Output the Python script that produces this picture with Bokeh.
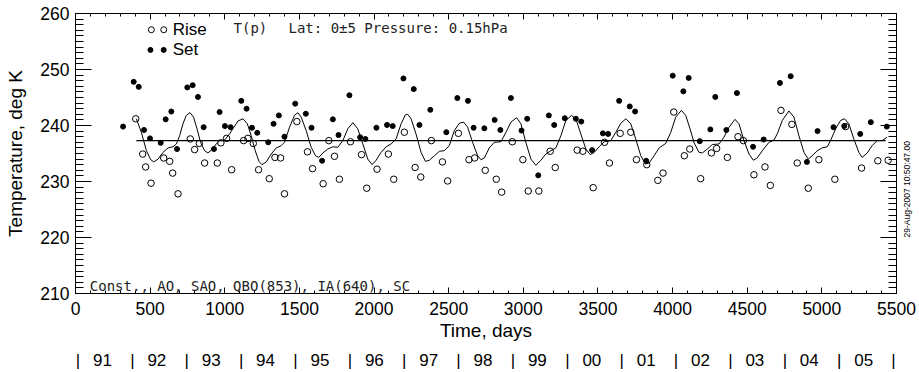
import math
from bokeh.plotting import figure
from bokeh.models import (Range1d, LinearAxis, SingleIntervalTicker, FixedTicker,
                          Label, AllLabels)
from bokeh.embed import file_html
from bokeh.resources import INLINE

# ---------------- data ----------------
rise_day = [403.5, 450, 470, 506, 591, 631, 651, 686.7, 769, 798, 829.5, 865, 950, 974,
            1012, 1046, 1126, 1155, 1191, 1226.5, 1298, 1336, 1374, 1400, 1483, 1554,
            1588, 1659, 1697, 1735, 1768, 1842, 1916, 1951, 2020, 2096, 2132, 2203,
            2275, 2313, 2384, 2458, 2493, 2565, 2636, 2674, 2745, 2819, 2855, 2926,
            2997, 3033, 3104, 3180, 3214, 3361, 3399, 3468, 3544, 3577, 3649, 3720,
            3758, 3827, 3901, 3936, 4008, 4079, 4115, 4188, 4260, 4295, 4367, 4438,
            4474, 4545, 4619, 4655, 4726, 4799, 4835, 4909, 4980, 5087, 5159, 5266,
            5375, 5444]
rise_temp = [241.2, 234.9, 232.6, 229.7, 234.2, 233.6, 231.5, 227.8, 237.6, 235.7, 236.8,
             233.3, 233.3, 236.9, 237.7, 232.1, 237.3, 237.7, 236.8, 232.1, 230.5, 234.3,
             234.2, 227.8, 240.7, 235.3, 232.3, 229.6, 237.3, 234.5, 230.4, 237.1, 234.8,
             228.8, 232.2, 234.9, 230.4, 238.8, 232.5, 230.8, 237.3, 233.5, 230.1, 238.6,
             233.9, 234.2, 232.0, 230.4, 228.1, 237.1, 233.9, 228.3, 228.3, 235.4, 232.5,
             235.6, 235.4, 228.9, 237.0, 233.3, 238.6, 238.8, 233.9, 233.0, 230.2, 231.5,
             242.4, 234.6, 235.8, 230.5, 235.1, 235.9, 234.3, 238.0, 237.3, 231.2, 232.6,
             229.3, 242.7, 240.2, 233.3, 228.8, 233.9, 230.4, 239.8, 232.4, 233.7, 233.8]

set_day = [318.7, 390, 423.6, 459, 499, 570.7, 604, 642, 680, 749, 785, 820.5, 858.4,
           927.6, 965.5, 1001, 1039, 1110.5, 1146, 1182, 1217.5, 1291, 1327, 1362.5, 1400,
           1472, 1543, 1581, 1652, 1724, 1762, 1835, 1907, 1942, 2016, 2087, 2125, 2197,
           2266, 2304, 2377, 2484, 2558, 2629, 2667, 2739, 2808, 2846, 2917, 2988, 3026,
           3100, 3171, 3207, 3278, 3352, 3388, 3461, 3533, 3568, 3642, 3713, 3749, 3823,
           4001, 4072, 4108, 4182, 4253, 4286, 4360, 4431, 4539, 4610, 4719, 4791, 4900,
           4971, 5078, 5150, 5257, 5328, 5435]
set_temp = [239.8, 247.8, 246.9, 239.2, 237.7, 236.9, 241.1, 242.5, 235.8, 246.8, 247.2,
            245.1, 239.7, 235.8, 242.4, 239.9, 239.7, 244.4, 243.0, 239.6, 238.7, 237.0,
            240.3, 241.8, 238.0, 243.9, 242.1, 239.6, 233.7, 241.1, 238.3, 245.4, 237.9,
            237.6, 239.6, 240.1, 239.9, 248.4, 246.5, 240.1, 242.8, 238.8, 244.9, 244.4,
            239.6, 239.5, 241.0, 239.2, 244.9, 239.1, 241.2, 231.1, 241.8, 240.1, 241.3,
            241.2, 240.7, 235.6, 238.6, 238.5, 244.4, 243.4, 242.5, 233.7, 248.9, 246.1,
            248.5, 237.2, 239.3, 245.1, 239.2, 245.8, 236.2, 237.5, 247.6, 248.8, 233.5,
            239.0, 239.7, 239.9, 238.5, 240.6, 239.8]

fit_day = [408, 441, 475, 504, 524, 553, 586, 620, 653, 676, 698, 720, 742, 767, 791, 814,
           838, 865, 887, 914, 943, 965, 999, 1032, 1061, 1088, 1122, 1151, 1177, 1204,
           1229, 1249, 1278, 1311, 1345, 1378, 1400, 1434, 1467, 1490, 1512, 1545, 1579,
           1608, 1630, 1657, 1690, 1724, 1757, 1791, 1824, 1858, 1891, 1925, 1958, 1987,
           2014, 2047, 2081, 2114, 2148, 2181, 2210, 2226, 2248, 2281, 2315, 2344, 2371,
           2404, 2438, 2471, 2504, 2538, 2571, 2600, 2627, 2660, 2694, 2716, 2739, 2772,
           2806, 2850, 2884, 2917, 2955, 2984, 3017, 3051, 3084, 3118, 3151, 3185, 3218,
           3252, 3285, 3323, 3352, 3385, 3419, 3448, 3475, 3508, 3542, 3586, 3620, 3653,
           3687, 3720, 3753, 3787, 3818, 3843, 3876, 3910, 3954, 3988, 4021, 4059, 4088,
           4117, 4144, 4177, 4199, 4233, 4266, 4311, 4344, 4378, 4418, 4445, 4478, 4512,
           4541, 4567, 4601, 4646, 4679, 4701, 4735, 4779, 4813, 4846, 4880, 4909, 4935,
           4969, 5002, 5036, 5058, 5092, 5125, 5152, 5181, 5214, 5248, 5270, 5304, 5337,
           5370, 5404, 5437]
fit_temp = [241.2, 238.8, 235.5, 233.9, 233.5, 234.0, 235.2, 236.0, 236.2, 236.7, 238.2,
            240.3, 241.8, 242.3, 241.5, 239.4, 237.0, 235.5, 235.1, 235.7, 236.7, 237.3,
            237.4, 238.5, 239.7, 240.8, 241.2, 240.3, 238.2, 235.5, 233.6, 233.0, 233.5,
            234.9, 236.0, 236.4, 237.0, 239.7, 241.8, 242.3, 241.5, 239.1, 236.1, 234.6,
            234.3, 235.1, 235.8, 236.2, 236.1, 237.3, 239.4, 240.5, 239.4, 236.7, 234.0,
            233.0, 233.8, 235.2, 236.2, 236.7, 237.6, 240.3, 241.9, 242.0, 241.2, 238.5,
            235.2, 233.6, 233.8, 234.6, 235.4, 235.5, 236.4, 239.1, 240.4, 240.6, 239.7,
            237.0, 234.6, 233.9, 234.2, 236.0, 237.0, 237.1, 238.8, 240.6, 241.4, 240.3,
            237.0, 234.0, 232.9, 233.8, 234.9, 235.5, 236.0, 238.2, 240.9, 241.8, 241.2,
            238.5, 235.8, 234.8, 235.2, 236.2, 237.1, 237.3, 238.8, 240.4, 241.2, 240.3,
            237.6, 234.6, 233.1, 233.3, 234.6, 236.0, 236.8, 238.8, 241.5, 242.7, 241.8,
            239.4, 236.9, 235.2, 235.1, 235.8, 236.6, 236.7, 237.9, 239.7, 241.1, 240.3,
            237.3, 234.9, 233.8, 234.2, 235.5, 237.0, 237.4, 238.5, 240.9, 242.6, 241.5,
            238.2, 235.2, 234.0, 234.6, 235.5, 236.0, 236.2, 237.3, 239.4, 240.9, 241.2,
            240.3, 237.6, 235.2, 234.3, 235.1, 236.4, 237.3, 237.3, 237.9]

mean_temp = 237.3
mean_span_days = [408, 5427]

year_labels = ["91", "92", "93", "94", "95", "96", "97", "98", "99",
               "00", "01", "02", "03", "04", "05"]
year_first_edge = 17
year_length = 364.2

timestamp = "29-Aug-2007 10:50:47.00"
timestamp_center_temp = 220

# ---------------- figure ----------------
FONT = "Liberation Sans"
THIN = "DejaVu Sans Mono"

p = figure(width=919, height=372, output_backend="svg", toolbar_location=None,
           x_range=Range1d(0, 5500), y_range=Range1d(210, 260),
           x_axis_location=None, y_axis_location=None)
p.min_border_left = 75
p.min_border_right = 22
p.min_border_top = 13
p.min_border_bottom = 79
p.outline_line_color = "black"
p.xgrid.visible = False
p.ygrid.visible = False
p.background_fill_color = "white"
p.border_fill_color = "white"


def style_axis(ax, major_in, minor_in, labels=True):
    ax.axis_line_color = "black"
    ax.major_tick_line_color = "black"
    ax.minor_tick_line_color = "black"
    ax.major_tick_in = major_in
    ax.major_tick_out = 0
    ax.minor_tick_in = minor_in
    ax.minor_tick_out = 0
    if labels:
        ax.major_label_text_font = FONT
        ax.major_label_text_font_size = "17.5px"
        ax.major_label_text_color = "black"
        ax.axis_label_text_font = FONT
        ax.axis_label_text_font_size = "19px"
        ax.axis_label_text_font_style = "normal"
        ax.axis_label_text_color = "black"
    else:
        ax.major_label_text_font_size = "1px"
        ax.major_label_text_color = None
        ax.major_label_standoff = 0


yt = SingleIntervalTicker(interval=10, num_minor_ticks=10)
xt = SingleIntervalTicker(interval=500, num_minor_ticks=5)

left = LinearAxis(ticker=yt, axis_label="Temperature, deg K")
style_axis(left, 16, 8)
left.major_label_standoff = 6
left.axis_label_standoff = 11
p.add_layout(left, "left")

right = LinearAxis(ticker=yt)
style_axis(right, 16, 8, labels=False)
p.add_layout(right, "right")

# time stamp printed sideways at the right edge
stamp = LinearAxis(ticker=FixedTicker(ticks=[timestamp_center_temp], minor_ticks=[]),
                   major_label_overrides={timestamp_center_temp: timestamp},
                   major_label_orientation=math.pi / 2)
stamp.axis_line_color = None
stamp.major_tick_line_color = None
stamp.minor_tick_line_color = None
stamp.major_tick_in = 0
stamp.major_tick_out = 0
stamp.major_label_standoff = 10
stamp.major_label_text_font = FONT
stamp.major_label_text_font_size = "8.5px"
stamp.major_label_text_color = "black"
p.add_layout(stamp, "right")

bottom = LinearAxis(ticker=xt, axis_label="Time, days")
style_axis(bottom, 6, 3)
bottom.major_label_standoff = 8
bottom.axis_label_standoff = 2
p.add_layout(bottom, "below")

top = LinearAxis(ticker=xt)
style_axis(top, 6, 3, labels=False)
p.add_layout(top, "above")

# year row as an extra axis below
edges = [year_first_edge + year_length * k for k in range(len(year_labels) + 1)]
centers = [e + 0.45 * year_length for e in edges[:-1]]
ticks = [round(e) for e in edges] + [round(c) for c in centers]
overrides = {round(e): "|" for e in edges}
overrides.update({round(c): lab for c, lab in zip(centers, year_labels)})
yr = LinearAxis(ticker=FixedTicker(ticks=sorted(ticks), minor_ticks=[]),
                major_label_overrides=overrides, major_label_policy=AllLabels())
yr.axis_line_color = None
yr.major_tick_line_color = None
yr.minor_tick_line_color = None
yr.major_tick_in = 0
yr.major_tick_out = 0
yr.major_label_standoff = 7
yr.major_label_text_font = FONT
yr.major_label_text_font_size = "17px"
yr.major_label_text_color = "black"
p.add_layout(yr, "below")

# ---------------- glyphs ----------------
p.line(fit_day, fit_temp, line_color="black", line_width=1)
p.line(mean_span_days, [mean_temp, mean_temp], line_color="black", line_width=1.2)

p.scatter(rise_day, rise_temp, marker="circle", size=6.5, fill_color=None,
          line_color="black", line_width=1)
p.scatter(set_day, set_temp, marker="circle", size=5, fill_color="black",
          line_color="black")

# legend (manual, two symbols per entry as in the original)
p.scatter([508, 591], [257.1, 257.1], marker="circle", size=6, fill_color=None,
          line_color="black", line_width=1)
p.scatter([502, 591], [253.5, 253.5], marker="circle", size=5, fill_color="black",
          line_color="black")
p.add_layout(Label(x=651, y=257.1, text="Rise", text_font=FONT, text_font_size="17px",
                   text_baseline="middle", text_align="left", text_color="black"))
p.add_layout(Label(x=651, y=253.5, text="Set", text_font=FONT, text_font_size="17px",
                   text_baseline="middle", text_align="left", text_color="black"))

p.add_layout(Label(x=1059, y=257.5, text="T(p)", text_font=THIN, text_font_size="14px",
                   text_baseline="middle", text_align="left", text_color="#222222"))
p.add_layout(Label(x=1427, y=257.5, text="Lat: 0\u00b15 Pressure: 0.15hPa", text_font=THIN,
                   text_font_size="14px", text_baseline="middle", text_align="left",
                   text_color="#222222"))
p.add_layout(Label(x=96, y=211.4, text="Const., AO, SAO, QBO(853), IA(640), SC",
                   text_font=THIN, text_font_size="14px", text_baseline="middle",
                   text_align="left", text_color="#222222"))

open("out.html", "w").write(file_html(p, INLINE))
